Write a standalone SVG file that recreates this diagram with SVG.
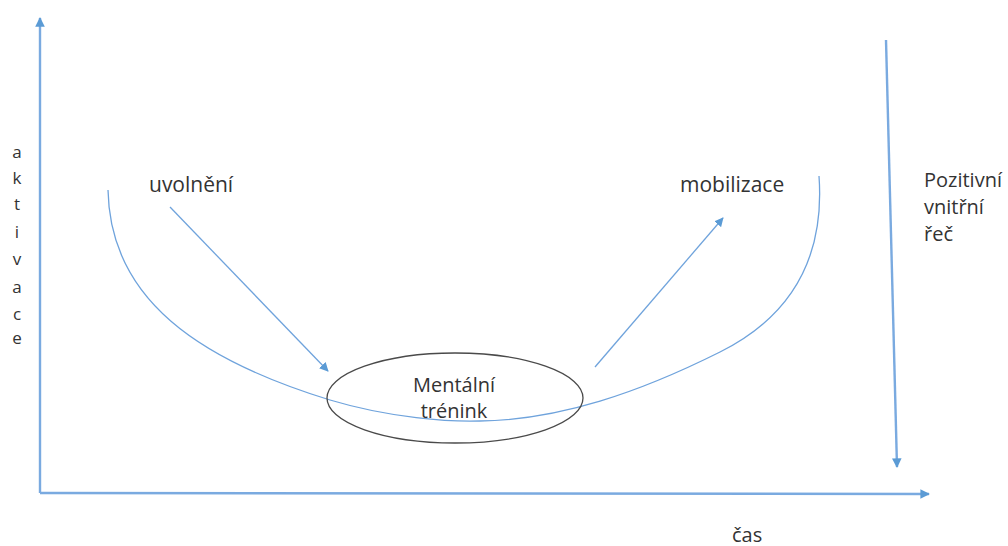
<svg xmlns="http://www.w3.org/2000/svg" width="1008" height="546" viewBox="0 0 1008 546">
<style>
.t{font-family:"Open Sans","Liberation Sans",sans-serif;fill:#333333;}
.axis{stroke:#7aaae0;stroke-width:2.4;fill:none;}
.conn{stroke:#6fa3dc;stroke-width:1.3;fill:none;}
</style>
<defs>
<marker id="ah" viewBox="0 0 10 10" refX="9" refY="5" markerWidth="4" markerHeight="4" orient="auto" markerUnits="strokeWidth">
<path d="M0,0 L10,5 L0,10 Z" fill="#5b9bd5"/>
</marker>
<marker id="ahs" viewBox="0 0 10 10" refX="9" refY="5" markerWidth="7" markerHeight="7" orient="auto" markerUnits="strokeWidth">
<path d="M0,0 L10,5 L0,10 Z" fill="#5b9bd5"/>
</marker>
</defs>
<rect width="1008" height="546" fill="#ffffff"/>
<g id="connectors">
<path class="axis" d="M40,493 L40,18" marker-end="url(#ah)"/>
<path class="axis" d="M40,493 L929,494" marker-end="url(#ah)"/>
<path class="axis" d="M886,40 L897,467" marker-end="url(#ah)"/>
<path class="conn" d="M108,190 C110,300 200,360 330,400 C390,418 450,422 480,421 C560,420 640,392 720,352 C790,317 825,260 819,176"/>
<path class="conn" d="M170,207 L328,371" marker-end="url(#ahs)"/>
<path class="conn" d="M595,367 L723,218" marker-end="url(#ahs)"/>
</g>
<g id="node-training">
<ellipse cx="455" cy="398" rx="128" ry="45" fill="none" stroke="#4a4a4a" stroke-width="1.3"/>
<text class="t" x="454" y="392" font-size="20" text-anchor="middle">Mentální</text>
<text class="t" x="454" y="418" font-size="20" text-anchor="middle">trénink</text>
</g>
<g id="node-uvolneni">
<text class="t" x="149" y="192" font-size="21">uvolnění</text>
</g>
<g id="node-mobilizace">
<text class="t" x="680" y="192" font-size="21">mobilizace</text>
</g>
<g id="node-rec">
<text class="t" x="924" y="187" font-size="20">Pozitivní</text>
<text class="t" x="924" y="214" font-size="20">vnitřní</text>
<text class="t" x="924" y="241" font-size="20">řeč</text>
</g>
<g id="label-aktivace" class="t" font-size="17" text-anchor="middle">
<text x="17" y="158">a</text>
<text x="17" y="184">k</text>
<text x="17" y="210">t</text>
<text x="17" y="238">i</text>
<text x="17" y="265">v</text>
<text x="17" y="293">a</text>
<text x="17" y="320">c</text>
<text x="17" y="344">e</text>
</g>
<g id="label-cas">
<text class="t" x="732" y="542" font-size="20">čas</text>
</g>
</svg>
